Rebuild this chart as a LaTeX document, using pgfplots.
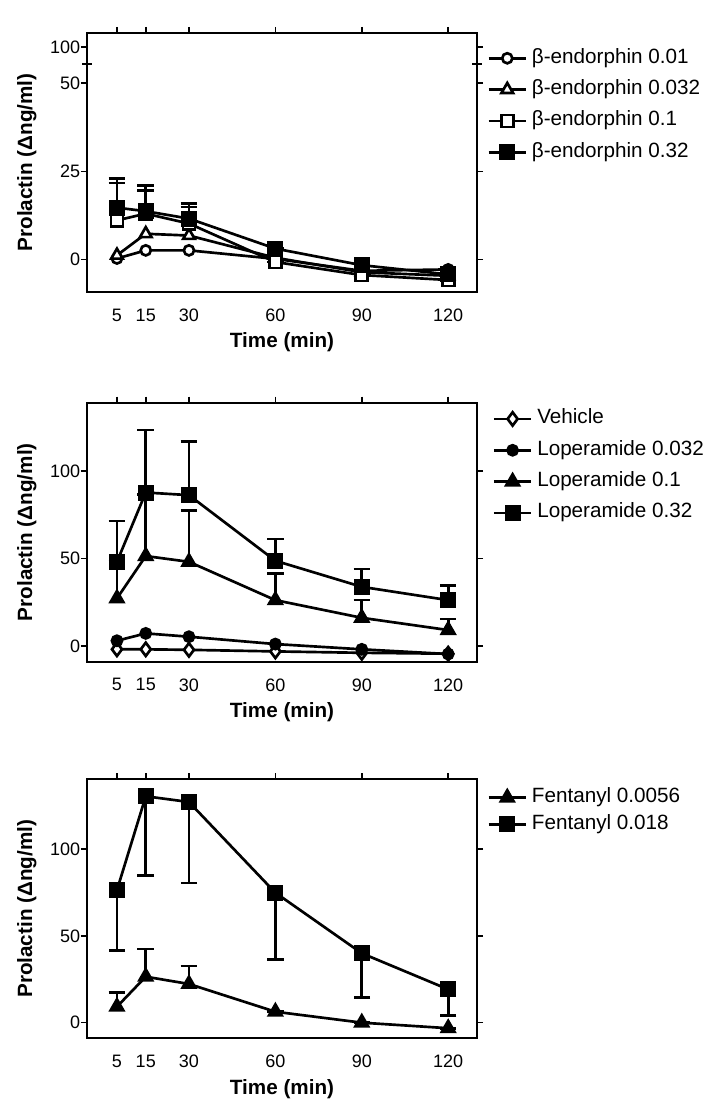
\documentclass[border=0pt]{standalone}
\usepackage{fontspec}
\setmainfont{Liberation Sans}
\usepackage{pgfplots}
\pgfplotsset{compat=1.18}
\pgfplotsset{
 panel/.style={
  scale only axis, width=292.5pt, height=194.25pt,
  anchor=south west,
  xmin=-5.4, xmax=130,
  xtick={5,15,30,60,90,120},
  xtick pos=upper, xticklabel pos=lower,
  ytick pos=both, yticklabel pos=left,
  tick align=outside,
  major tick length=4.5pt,
  axis line style={line width=1.3pt},
  every tick/.style={black, line width=1.2pt},
  tick label style={font=\fontsize{13.5}{15}\selectfont},
  /pgf/number format/assume math mode=true,
  xticklabel style={yshift=-4.5pt},
  yticklabel style={inner sep=0pt, xshift=-0.5pt},
  xlabel={Time (min)},
  ylabel={Prolactin (Δng/ml)},
  label style={font=\bfseries\fontsize{15.5}{18}\selectfont},
  xlabel style={at={(axis description cs:0.5,-0.195)}, anchor=center},
  ylabel style={at={(axis description cs:-0.154,0.5)}, anchor=center},
  legend style={draw=none, fill=none, font=\fontsize{15.5}{18}\selectfont,
     anchor=north west, at={(rel axis cs:1,1)},
     nodes={inner sep=2pt, inner xsep=3.5pt, text height=11pt, text depth=3.5pt}},
  legend cell align=left,
  legend image code/.code={\draw[mark repeat=2,mark phase=2,##1] plot coordinates {(0pt,0pt)(14pt,0pt)(28pt,0pt)};},
  every axis plot/.append style={black, line width=2pt, mark options={solid, line width=1.8pt}},
  error bars/error bar style={line width=2pt, solid},
  error bars/error mark options={rotate=90, mark size=6.2pt, line width=2pt},
 },
 osq/.style={mark=square*, mark options={fill=white}, mark size=4.5pt},
 fsq/.style={mark=square*, mark options={fill=black}, mark size=5pt},
 ocir/.style={mark=*, mark options={fill=white}, mark size=3.8pt},
 fcir/.style={mark=*, mark options={fill=black}, mark size=3.8pt},
 otri/.style={mark=triangle*, mark options={fill=white}, mark size=5pt},
 ftri/.style={mark=triangle*, mark options={fill=black}, mark size=5.5pt},
 odia/.style={mark=diamond*, mark options={fill=white}, mark size=5pt},
}
\pgfplotstableread{
t y
5 0.3
15 2.6
30 2.6
60 0.2
90 -3.2
120 -2.8
}\bA
\pgfplotstableread{
t y
5 1.2
15 7.3
30 6.8
60 0.5
90 -3.6
120 -4.6
}\bB
\pgfplotstableread{
t y e
5 11.1 10.6
15 13.0 6.6
30 10.2 4.7
60 -0.7 0
90 -4.4 0
120 -5.8 0
}\bC
\pgfplotstableread{
t y e
5 14.7 8.3
15 13.7 7.3
30 11.6 4.2
60 3.1 0
90 -1.6 0
120 -4.2 0
}\bD
\pgfplotstableread{
t y
5 -2
15 -2
30 -2.3
60 -3.2
90 -4
120 -4.5
}\lV
\pgfplotstableread{
t y
5 2.9
15 7.1
30 5.2
60 1
90 -2
120 -4.7
}\lA
\pgfplotstableread{
t y e
5 27.1 21
15 51.3 35
30 48 29.5
60 26.1 15.3
90 16 10.1
120 9 6.3
}\lB
\pgfplotstableread{
t y e
5 48 23.4
15 87.6 35.7
30 86.1 30.5
60 48.6 12.4
90 33.7 10.1
120 26.1 8.2
}\lC
\pgfplotstableread{
t y e
5 9.2 8.3
15 26.5 15.9
30 22.3 10.3
60 6.3 0
90 0 0
120 -3.2 0
}\fA
\pgfplotstableread{
t y e
5 76.4 34.9
15 130.5 45.5
30 127.2 46.6
60 74.9 38.4
90 40 25.4
120 19.2 15.2
}\fB
\begin{document}
\begin{tikzpicture}
\useasboundingbox (0,0) rectangle (543.75pt,-834.75pt);
% Panel 1
\begin{axis}[panel, at={(65.25pt,-219pt)},
  ymin=-9.2, ymax=64.2,
  ytick={0,25,50,60.25}, yticklabels={0,25,50,100},
  extra y ticks={55.4}, extra y tick labels={},
  extra tick style={tick align=center, major tick length=7pt},
  legend style={xshift=4.5pt, yshift=-7.5pt, row sep=5pt}]
\addplot[ocir] table[x=t,y=y]{\bA};
\addlegendentry{β-endorphin 0.01}
\addplot[otri] table[x=t,y=y]{\bB};
\addlegendentry{β-endorphin 0.032}
\addplot[osq, error bars/.cd, y dir=plus, y explicit] table[x=t,y=y,y error=e]{\bC};
\addlegendentry{β-endorphin 0.1}
\addplot[fsq, error bars/.cd, y dir=plus, y explicit] table[x=t,y=y,y error=e]{\bD};
\addlegendentry{β-endorphin 0.32}
\end{axis}
% Panel 2
\begin{axis}[panel, at={(65.25pt,-496.3pt)},
  ymin=-9.1, ymax=138.9,
  ytick={0,50,100},
  legend style={xshift=8.5pt, yshift=-0.7pt, row sep=5pt}]
\addplot[odia] table[x=t,y=y]{\lV};
\addlegendentry{Vehicle}
\addplot[fcir] table[x=t,y=y]{\lA};
\addlegendentry{Loperamide 0.032}
\addplot[ftri, error bars/.cd, y dir=plus, y explicit] table[x=t,y=y,y error=e]{\lB};
\addlegendentry{Loperamide 0.1}
\addplot[fsq, error bars/.cd, y dir=plus, y explicit] table[x=t,y=y,y error=e]{\lC};
\addlegendentry{Loperamide 0.32}
\end{axis}
% Panel 3
\begin{axis}[panel, at={(65.25pt,-778.7pt)},
  ymin=-9.0, ymax=140.3,
  ytick={0,50,100},
  legend style={xshift=4.5pt, yshift=-2.3pt, row sep=1.5pt}]
\addplot[ftri, error bars/.cd, y dir=plus, y explicit] table[x=t,y=y,y error=e]{\fA};
\addlegendentry{Fentanyl 0.0056}
\addplot[fsq, error bars/.cd, y dir=minus, y explicit] table[x=t,y=y,y error=e]{\fB};
\addlegendentry{Fentanyl 0.018}
\end{axis}
\end{tikzpicture}
\end{document}
